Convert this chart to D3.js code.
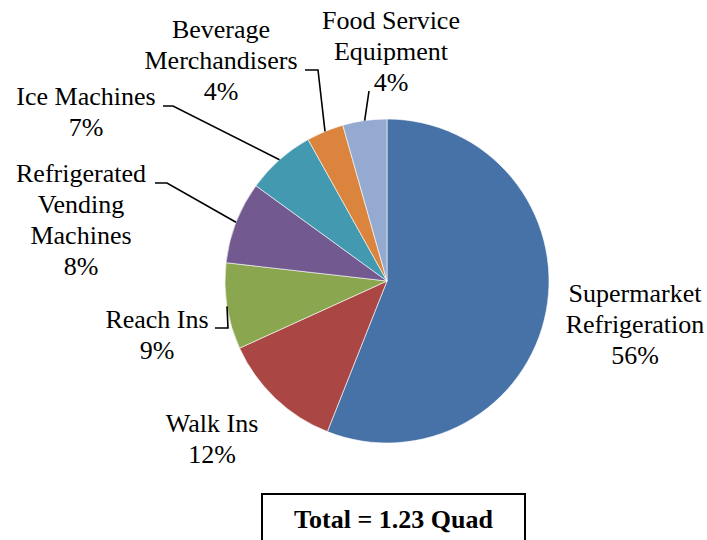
<!DOCTYPE html>
<html><head><meta charset="utf-8">
<script src="https://cdn.jsdelivr.net/npm/d3@7"></script>
<style>body{margin:0;background:#fff}svg{display:block}</style>
</head><body>
<script>
const categories = ["Supermarket Refrigeration","Walk Ins","Reach Ins","Refrigerated Vending Machines","Ice Machines","Beverage Merchandisers","Food Service Equipment"];
const values = [56.0, 12.2, 8.6, 8.2, 6.9, 3.7, 4.4];
const percentLabels = ["56%","12%","9%","8%","7%","4%","4%"];
const labelLines = [["Supermarket","Refrigeration"],["Walk Ins"],["Reach Ins"],["Refrigerated","Vending","Machines"],["Ice Machines"],["Beverage","Merchandisers"],["Food Service","Equipment"]];
const colors = ["#4672A8","#AA4744","#8AA64F","#725990","#4299B0","#DB843D","#94AAD0"];
const totalText = "Total = 1.23 Quad";

// layout (label centre x, first baseline y, leader elbow points)
const labelLayout = [
  {x:635, y:302, leader:null},
  {x:212, y:432, leader:null},
  {x:157, y:328, leader:[[228,328],[215,328]]},
  {x:81,  y:182, leader:[[167,183],[155,183]]},
  {x:86,  y:105, leader:[[173,106],[163,106]]},
  {x:221, y:38,  leader:[[318,70],[305,70]]},
  {x:391, y:29,  leader:[[369,91]]}
];

const W=707,H=540, cx=387, cy=281, R=162, lh=31;
const svg=d3.select("body").append("svg").attr("width",W).attr("height",H);

const pie=d3.pie().sort(null).value(d=>d)(values);
const arc=d3.arc().innerRadius(0).outerRadius(R);
const g=svg.append("g").attr("transform",`translate(${cx},${cy})`);
g.selectAll("path").data(pie).join("path")
  .attr("d",arc).attr("fill",(d,i)=>colors[i])
  .attr("stroke","#fff").attr("stroke-width",0.6);

// leaders
pie.forEach((d,i)=>{
  const L=labelLayout[i];
  if(!L.leader) return;
  const a=(d.startAngle+d.endAngle)/2;
  const p0=[cx+R*Math.sin(a), cy-R*Math.cos(a)];
  const pts=[p0,...L.leader];
  svg.append("path").attr("d",d3.line()(pts))
    .attr("fill","none").attr("stroke","#000").attr("stroke-width",1.6);
});

// labels
const font="'Liberation Serif','Times New Roman',serif";
labelLines.forEach((lines,i)=>{
  const L=labelLayout[i];
  const t=svg.append("text").attr("font-family",font).attr("font-size",26)
    .attr("text-anchor","middle").attr("fill","#000");
  [...lines, percentLabels[i]].forEach((s,k)=>{
    t.append("tspan").attr("x",L.x).attr("y",L.y+k*lh).text(s);
  });
});

// total box
svg.append("rect").attr("x",262).attr("y",494).attr("width",263).attr("height",70)
  .attr("fill","#fff").attr("stroke","#000").attr("stroke-width",2);
svg.append("text").attr("x",393.5).attr("y",528).attr("text-anchor","middle")
  .attr("font-family",font).attr("font-size",26).attr("font-weight","bold").text(totalText);
</script>
</body></html>
